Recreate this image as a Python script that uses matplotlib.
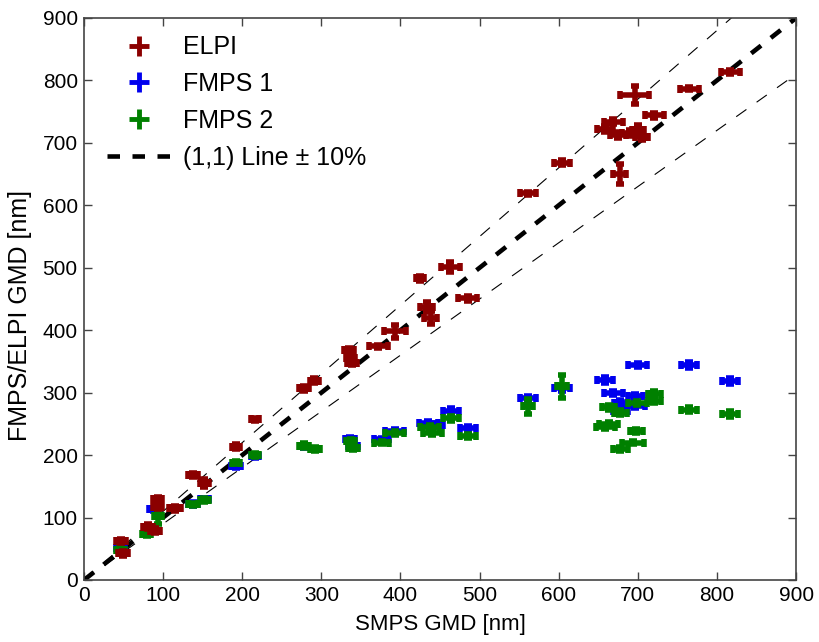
import matplotlib
matplotlib.use("Agg")
import matplotlib.pyplot as plt
from matplotlib.lines import Line2D
import numpy as np

plt.rcParams['font.family'] = ['Liberation Sans', 'DejaVu Sans']
plt.rcParams['lines.scale_dashes'] = False

# ELPI: SMPS GMD, ELPI GMD, x error, y error
elpi_x = [47, 49, 93, 93, 81, 90, 115, 138, 152, 192, 216, 278, 291, 335, 337, 339,
          372, 393, 425, 433, 438, 463, 485, 561, 604, 659, 669, 675, 690, 700, 705,
          696, 677, 721, 765, 817]
elpi_y = [62, 43, 129, 117, 85, 79, 115, 168, 155, 213, 257, 307, 319, 368, 355, 348,
          374, 398, 483, 437, 420, 501, 451, 619, 668, 722, 734, 712, 716, 720, 710,
          777, 650, 744, 787, 814]
elpi_xerr = [6, 6, 6, 6, 6, 6, 8, 6, 6, 5, 5, 6, 6, 6, 6, 6,
             12, 14, 5, 8, 8, 12, 12, 10, 10, 10, 12, 10, 10, 8, 8,
             18, 8, 12, 12, 12]
elpi_yerr = [3, 4, 4, 4, 4, 4, 4, 3, 6, 4, 3, 4, 4, 4, 4, 4,
             3, 10, 4, 8, 10, 8, 4, 3, 4, 5, 4, 5, 5, 8, 5,
             14, 16, 4, 3, 3]

# FMPS 1
fmps1_x = [46, 88, 138, 152, 192, 216, 278, 336, 340, 376, 393, 435, 442, 464, 485,
           561, 604, 659, 669, 678, 678, 697, 697, 700, 765, 817]
fmps1_y = [52, 113, 122, 129, 183, 199, 214, 226, 215, 225, 239, 252, 248, 271, 243,
           291, 307, 320, 300, 284, 271, 294, 279, 344, 344, 319]
fmps1_xerr = [6, 6, 6, 6, 6, 5, 5, 6, 6, 10, 12, 12, 12, 10, 10,
              10, 10, 10, 12, 8, 10, 10, 12, 12, 10, 10]
fmps1_yerr = [3, 3, 3, 3, 3, 3, 3, 3, 3, 3, 3, 3, 3, 4, 3,
              3, 4, 5, 3, 5, 3, 4, 3, 3, 5, 5]

# FMPS 2
fmps2_x = [46, 79, 93, 138, 152, 192, 216, 278, 292, 337, 340, 376, 393, 437, 440,
           464, 485, 561, 604, 659, 663, 663, 678, 678, 694, 698, 699, 721, 721, 765, 817]
fmps2_y = [48, 73, 102, 121, 128, 188, 200, 215, 210, 222, 212, 220, 235, 245, 235,
           259, 231, 278, 310, 245, 250, 277, 268, 210, 220, 238, 284, 298, 286, 273, 266]
fmps2_xerr = [6, 6, 5, 6, 6, 5, 5, 6, 6, 6, 6, 10, 12, 12, 12,
              10, 10, 6, 6, 12, 12, 8, 8, 10, 14, 8, 12, 8, 8, 10, 10]
fmps2_yerr = [3, 3, 12, 3, 3, 3, 3, 4, 3, 4, 4, 3, 3, 3, 3,
              4, 3, 12, 18, 3, 3, 4, 4, 3, 3, 3, 3, 5, 3, 4, 5]

c_elpi = '#8b0000'
c_fmps1 = '#0000ee'
c_fmps2 = '#008000'

fig = plt.figure(figsize=(8.19, 6.42), dpi=100)
ax = fig.add_axes([0.1026, 0.0966, 0.8694, 0.8754])

dash = (0, (9, 9))
line = np.array([0, 900])
ax.plot(line, line, color='k', lw=3.3, ls=dash, dash_capstyle='butt', zorder=2)
ax.plot(line, 1.1 * line, color='k', lw=0.8, ls=dash, zorder=2)
ax.plot(line, 0.9 * line, color='k', lw=0.8, ls=dash, zorder=2)

eb = dict(fmt='none', elinewidth=4, capsize=3, capthick=4, zorder=3)
ax.errorbar(fmps1_x, fmps1_y, xerr=fmps1_xerr, yerr=fmps1_yerr, ecolor=c_fmps1, **eb)
ax.errorbar(fmps2_x, fmps2_y, xerr=fmps2_xerr, yerr=fmps2_yerr, ecolor=c_fmps2, **eb)
ax.errorbar(elpi_x, elpi_y, xerr=elpi_xerr, yerr=elpi_yerr, ecolor=c_elpi, **eb)

handles = [
    Line2D([], [], color=c_elpi, marker='+', ms=15, mew=3.5, ls='none'),
    Line2D([], [], color=c_fmps1, marker='+', ms=15, mew=3.5, ls='none'),
    Line2D([], [], color=c_fmps2, marker='+', ms=15, mew=3.5, ls='none'),
    Line2D([], [], color='k', lw=3.3, ls=dash, dash_capstyle='butt'),
]
labels = ['ELPI', 'FMPS 1', 'FMPS 2', '(1,1) Line \u00b1 10%']
ax.legend(handles, labels, loc='upper left', bbox_to_anchor=(0.018, 0.987), frameon=False,
          borderaxespad=0, fontsize=18, handlelength=2.6, handletextpad=0.44,
          labelspacing=0.51)

ax.set_xlim(0, 900)
ax.set_ylim(0, 900)
ax.set_xticks(np.arange(0, 901, 100))
ax.set_yticks(np.arange(0, 901, 100))
ax.tick_params(direction='in', top=True, right=True, length=6, width=1,
               color='#444444', labelsize=15, pad=4.5)
for s in ax.spines.values():
    s.set_color('#444444')
    s.set_linewidth(1.2)

ax.set_xlabel('SMPS GMD [nm]', fontsize=16)
ax.set_ylabel('FMPS/ELPI GMD [nm]', fontsize=18)
ax.xaxis.set_label_coords(0.5, -0.06)
ax.yaxis.set_label_coords(-0.073, 0.47)

fig.savefig('out.png', dpi=100)
